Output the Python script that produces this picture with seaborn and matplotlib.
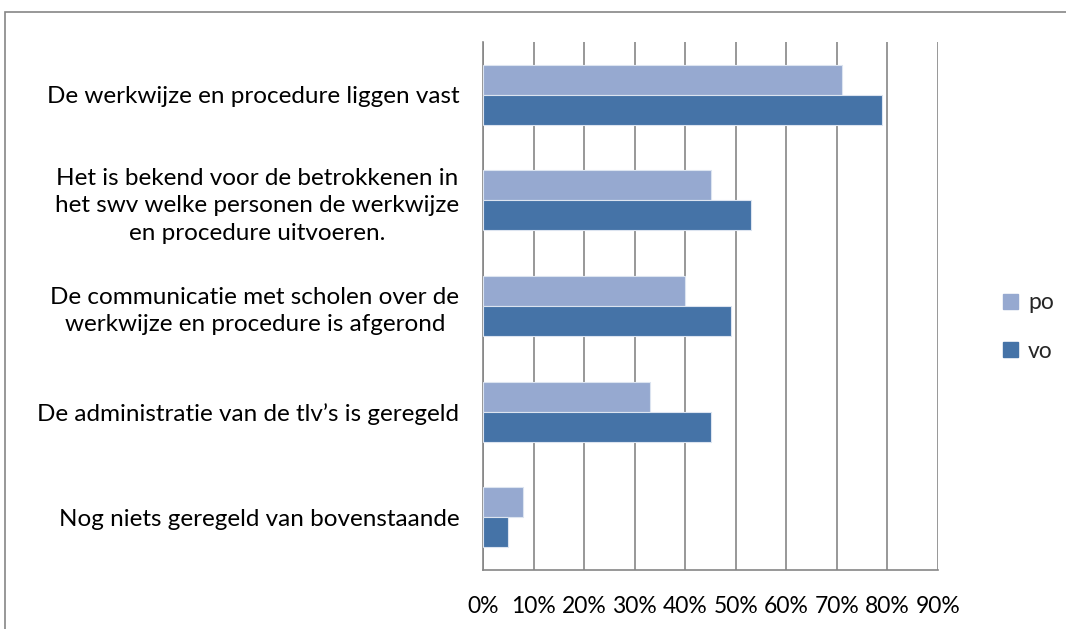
import matplotlib
matplotlib.use("Agg")
import matplotlib.pyplot as plt
import matplotlib.patches as mpatches
import seaborn as sns
import pandas as pd

categories = [
    "De werkwijze en procedure liggen vast",
    "Het is bekend voor de betrokkenen in\nhet swv welke personen de werkwijze\nen procedure uitvoeren.",
    "De communicatie met scholen over de\nwerkwijze en procedure is afgerond",
    "De administratie van de tlv’s is geregeld",
    "Nog niets geregeld van bovenstaande",
]
po_values = [71, 45, 40, 33, 8]
vo_values = [79, 53, 49, 45, 5]
series = ["po", "vo"]
x_ticks = [0, 10, 20, 30, 40, 50, 60, 70, 80, 90]
x_tick_labels = [f"{t}%" for t in x_ticks]

df = pd.DataFrame({
    "category": categories * 2,
    "value": po_values + vo_values,
    "series": ["po"] * len(categories) + ["vo"] * len(categories),
})

sns.set_theme(style="white")
plt.rcParams["font.family"] = ["Lato", "DejaVu Sans"]

fig = plt.figure(figsize=(10.66, 6.29), dpi=100)
ax = fig.add_axes([483 / 1066, 1 - 570 / 629, 455 / 1066, 528 / 629])

palette = {"po": "#96A9D0", "vo": "#4573A7"}
sns.barplot(data=df, x="value", y="category", hue="series", hue_order=series,
            order=categories, palette=palette, width=0.57, ax=ax,
            edgecolor="#dce4f0", linewidth=0.8, saturation=1, zorder=3)

ax.set_xlim(0, 90)
ax.set_xticks(x_ticks)
ax.set_xticklabels(x_tick_labels)
ax.set_xlabel("")
ax.set_ylabel("")
ax.grid(axis="x", color="#868686", linewidth=1.2, zorder=0)
ax.set_axisbelow(True)
for s in ["top", "right"]:
    ax.spines[s].set_visible(False)
for s in ["left", "bottom"]:
    ax.spines[s].set_color("#868686")
    ax.spines[s].set_linewidth(1.2)
ax.tick_params(axis="x", length=0, pad=19, labelsize=16.5, colors="black")
ax.tick_params(axis="y", length=0, pad=17, labelsize=17.5, colors="black")
for lbl in ax.get_yticklabels():
    lbl.set_multialignment("center")
    lbl.set_linespacing(1.38)

handles = [mpatches.Patch(color=palette[s], label=s) for s in series]
ax.get_legend().remove()
fig.legend(handles=handles, loc="center left", bbox_to_anchor=(1003 / 1066, 1 - 327 / 629),
           frameon=False, fontsize=16.5, handlelength=0.65, handleheight=0.65,
           labelspacing=1.2, handletextpad=0.45, borderpad=0, borderaxespad=0)

frame = mpatches.Rectangle((5 / 1066, -0.1), 1.2, 1 - 12 / 629 + 0.1,
                           transform=fig.transFigure, fill=False,
                           edgecolor="#868686", linewidth=1.2)
fig.patches.append(frame)

fig.savefig("out.png", dpi=100)
